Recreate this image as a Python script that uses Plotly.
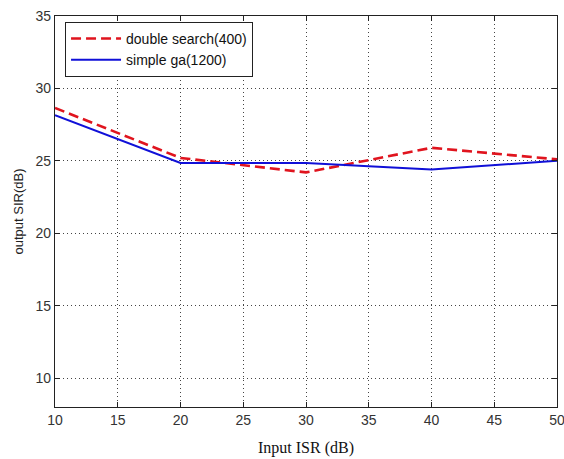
import plotly.graph_objects as go

# Input ISR values (dB) and output SIR for each method
isr_in = [10, 20, 30, 40, 50]
double_search = [28.65, 25.2, 24.2, 25.9, 25.1]
simple_ga = [28.15, 24.85, 24.85, 24.4, 25.0]

x_ticks = [10, 15, 20, 25, 30, 35, 40, 45, 50]
y_ticks = [10, 15, 20, 25, 30, 35]

fig = go.Figure()
fig.add_trace(go.Scatter(
    x=isr_in, y=double_search, mode="lines", name="double search(400)",
    line=dict(color="#e0141e", width=2.6, dash="10px,5px"),
))
fig.add_trace(go.Scatter(
    x=isr_in, y=simple_ga, mode="lines", name="simple ga(1200)",
    line=dict(color="#1010d8", width=2),
))

axis_common = dict(
    showline=True, linecolor="#222", linewidth=1.2, mirror="ticks",
    ticks="inside", ticklen=5, tickcolor="#222",
    showgrid=True, gridcolor="#444", griddash="1px,3px", gridwidth=1,
    zeroline=False, ticklabeloverflow="allow", automargin=False,
    tickfont=dict(family="Liberation Sans, Arial", size=14, color="#333"),
)

fig.update_xaxes(
    range=[10, 50], tickvals=x_ticks,
    title=dict(text="Input ISR (dB)", standoff=14,
               font=dict(family="Liberation Serif, Times New Roman", size=16, color="#111")),
    **axis_common,
)
fig.update_yaxes(
    range=[8, 35], tickvals=y_ticks,
    title=dict(text="output SIR(dB)", standoff=8,
               font=dict(family="Liberation Sans, Arial", size=13, color="#222")),
    **axis_common,
)

fig.update_layout(
    width=564, height=459,
    margin=dict(l=55, r=7, t=16, b=52),
    paper_bgcolor="white", plot_bgcolor="white",
    showlegend=True,
    legend=dict(
        x=0.02, y=0.985, xanchor="left", yanchor="top",
        bgcolor="white", bordercolor="#222", borderwidth=1,
        font=dict(family="Liberation Sans, Arial", size=14, color="#111"),
        itemwidth=50, tracegroupgap=0,
    ),
)

fig.write_html("out.html")
